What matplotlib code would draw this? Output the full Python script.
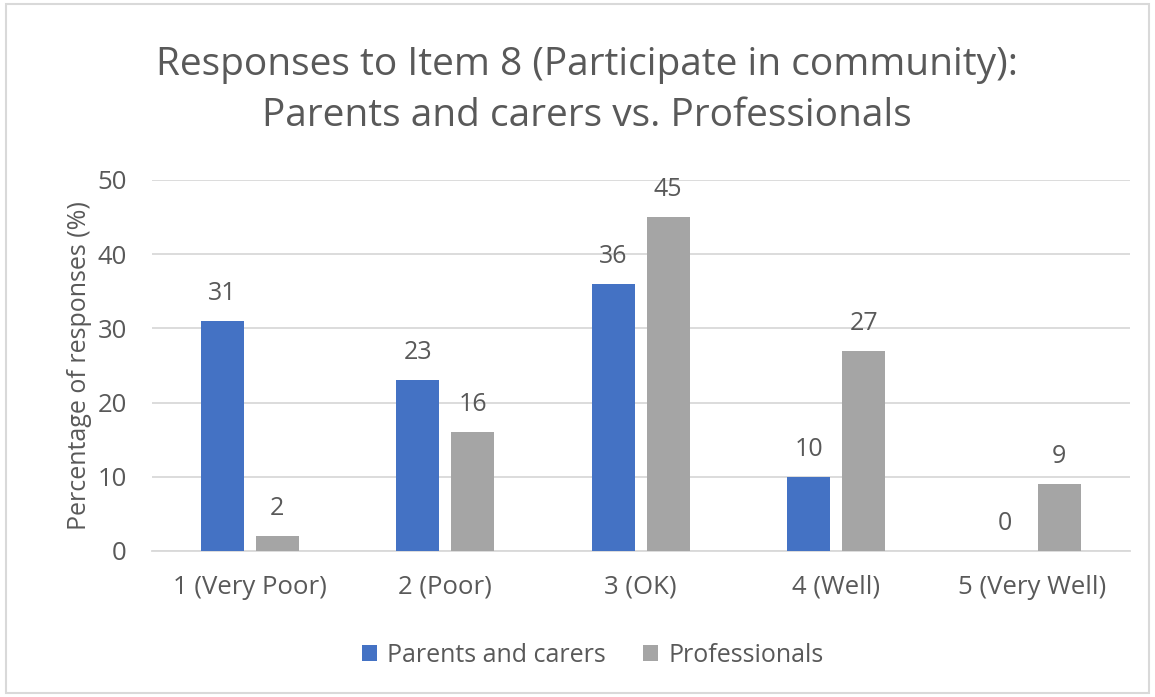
import numpy as np
import matplotlib
matplotlib.use("Agg")
import matplotlib.pyplot as plt
from matplotlib.patches import Rectangle

categories = ["1 (Very Poor)", "2 (Poor)", "3 (OK)", "4 (Well)", "5 (Very Well)"]
parents = [31, 23, 36, 10, 0]
professionals = [2, 16, 45, 27, 9]
series_names = ["Parents and carers", "Professionals"]

plt.rcParams['font.family'] = ['Open Sans', 'DejaVu Sans']
txt = '#595959'

fig = plt.figure(figsize=(11.55, 6.97), dpi=100)
ax = fig.add_axes([0.1316, 0.2095, 0.8464, 0.5323])

x = np.arange(len(categories))
w = 0.22
off = 0.14
b1 = ax.bar(x - off, parents, w, color='#4472C4', label=series_names[0], zorder=3)
b2 = ax.bar(x + off, professionals, w, color='#A5A5A5', label=series_names[1], zorder=3)

# value labels above bars
for bars, vals in ((b1, parents), (b2, professionals)):
    for r, v in zip(bars, vals):
        ax.text(r.get_x() + r.get_width() / 2, v + 3.7, str(v), ha='center', va='center',
                fontsize=18, color=txt)

ax.set_xlim(-0.5, len(categories) - 0.5)
ax.set_ylim(0, 50)
ax.set_yticks(range(0, 51, 10))
ax.yaxis.grid(True, color='#d9d9d9', linewidth=1.3, zorder=0)
ax.set_xticks(x)
ax.set_xticklabels(categories)
ax.tick_params(axis='both', length=0, labelsize=18.5, labelcolor=txt)
ax.tick_params(axis='x', pad=17)
ax.tick_params(axis='y', pad=18)
for s in ['top', 'right', 'left']:
    ax.spines[s].set_visible(False)
ax.spines['bottom'].set_color('#d9d9d9')
ax.spines['bottom'].set_linewidth(1.3)
ax.set_ylabel("Percentage of responses (%)", fontsize=18, color=txt, labelpad=4)

fig.text(0.508, 0.87, "Responses to Item 8 (Participate in community):\nParents and carers vs. Professionals",
         ha='center', va='center', fontsize=28, color=txt, linespacing=1.45)

fig.legend(handles=[b1, b2], loc='center', bbox_to_anchor=(0.513, 0.06), ncol=2, frameon=False,
           fontsize=18, labelcolor=txt, handlelength=0.6, handleheight=0.6, columnspacing=1.5,
           handletextpad=0.4)

fig.patches.append(Rectangle((0.005, 0.006), 0.99, 0.988, transform=fig.transFigure,
                             fill=False, edgecolor='#d9d9d9', linewidth=1.5))

fig.savefig("out.png", dpi=100)
